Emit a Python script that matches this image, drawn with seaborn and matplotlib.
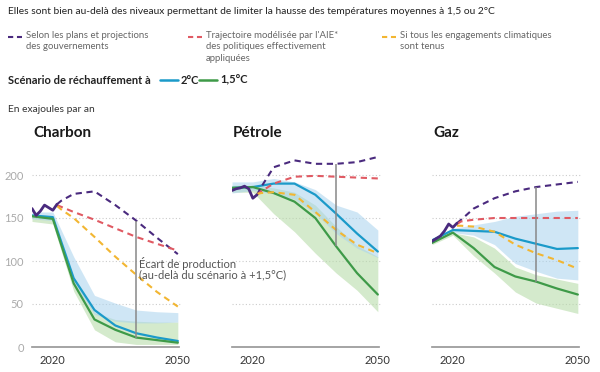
import numpy as np
import pandas as pd
import matplotlib.pyplot as plt
import seaborn as sns
from matplotlib.lines import Line2D

sns.set_theme(style="white")
plt.rcParams['font.family'] = ['Lato', 'DejaVu Sans']

# ---- data (EJ per year) ----
fuels = ['Charbon', 'Pétrole', 'Gaz']

years_hist = [2015, 2016, 2017, 2018, 2019, 2020, 2021]
coal_hist = [161, 153, 158, 165, 162, 159, 166]
oil_hist = [182, 184, 185, 187, 184, 173, 177]
gas_hist = [123, 126, 129, 135, 143, 139, 144]

years_proj = [2021, 2022, 2025, 2030, 2035, 2040, 2045, 2050]
coal_gov = [166, 170, 178, 181, 165, 147, 127, 108]
oil_gov = [177, 186, 209, 217, 213, 213, 215, 221]
gas_gov = [144, 148, 161, 173, 181, 186, 189, 192]

coal_iea = [165, 163, 157, 148, 138, 128, 120, 112]
oil_iea = [177, 181, 190, 198, 199, 198, 197, 196]
gas_iea = [143, 146, 148, 150, 150, 150, 150, 150]

coal_pledge = [164, 160, 150, 128, 105, 84, 64, 47]
oil_pledge = [178, 179, 180, 177, 157, 136, 119, 109]
gas_pledge = [141, 141, 140, 134, 119, 109, 101, 91]

years_scen = [2015, 2020, 2025, 2030, 2035, 2040, 2045, 2050]
coal_2c = [153, 151, 80, 43, 25, 16, 11, 7]
coal_2c_lo = [149, 147, 74, 38, 30, 28, 28, 29]
coal_2c_hi = [157, 157, 105, 60, 51, 43, 41, 40]
coal_15c = [152, 149, 74, 32, 20, 11, 8, 5]
coal_15c_lo = [146, 143, 65, 20, 6, 3, 3, 3]
coal_15c_hi = [153, 151, 80, 40, 32, 30, 29, 29]

oil_2c = [185, 186, 190, 190, 177, 155, 132, 111]
oil_2c_lo = [179, 182, 178, 172, 155, 132, 115, 104]
oil_2c_hi = [192, 192, 196, 192, 183, 165, 157, 136]
oil_15c = [185, 186, 179, 169, 150, 117, 86, 61]
oil_15c_lo = [180, 180, 155, 134, 109, 86, 66, 41]
oil_15c_hi = [188, 188, 185, 180, 165, 140, 118, 105]

gas_2c = [124, 136, 135, 134, 126, 120, 114, 115]
gas_2c_lo = [122, 133, 130, 119, 97, 88, 80, 78]
gas_2c_hi = [126, 138, 142, 146, 152, 155, 158, 159]
gas_15c = [121, 133, 115, 93, 82, 76, 68, 61]
gas_15c_lo = [119, 130, 106, 86, 64, 51, 45, 39]
gas_15c_hi = [122, 133, 128, 115, 93, 84, 79, 74]

yticks = [0, 50, 100, 150, 200]
xticks = [2020, 2030, 2040, 2050]
xticklabels = ['2020', '', '', '2050']

hist = [coal_hist, oil_hist, gas_hist]
gov = [coal_gov, oil_gov, gas_gov]
iea = [coal_iea, oil_iea, gas_iea]
pledge = [coal_pledge, oil_pledge, gas_pledge]
c2 = [coal_2c, oil_2c, gas_2c]
c2_lo = [coal_2c_lo, oil_2c_lo, gas_2c_lo]
c2_hi = [coal_2c_hi, oil_2c_hi, gas_2c_hi]
c15 = [coal_15c, oil_15c, gas_15c]
c15_lo = [coal_15c_lo, oil_15c_lo, gas_15c_lo]
c15_hi = [coal_15c_hi, oil_15c_hi, gas_15c_hi]

# colours
PURPLE = '#4a2a7e'
RED = '#e05a63'
YELLOW = '#f2b632'
BLUE = '#1b9ac9'
GREEN = '#3e9a48'
BLUE_BAND = '#a9d3ee'
GREEN_BAND = '#b8dcaa'
GREY_TXT = '#666666'

fig = plt.figure(figsize=(6, 3.72), dpi=100)

lefts = [32 / 600, 232 / 600, 432 / 600]
for i, fuel in enumerate(fuels):
    ax = fig.add_axes([lefts[i], 25 / 372, 150 / 600, 193.5 / 372])
    ax.set_facecolor('none')

    # uncertainty bands
    ax.fill_between(years_scen, c15_lo[i], c15_hi[i], color=GREEN_BAND, alpha=0.6, lw=0, zorder=1)
    ax.fill_between(years_scen, c2_lo[i], c2_hi[i], color=BLUE_BAND, alpha=0.55, lw=0, zorder=1)

    df_scen = pd.DataFrame({'year': years_scen * 2,
                            'value': c2[i] + c15[i],
                            'serie': ['2°C'] * len(years_scen) + ['1,5°C'] * len(years_scen)})
    sns.lineplot(data=df_scen, x='year', y='value', hue='serie',
                 palette={'2°C': BLUE, '1,5°C': GREEN}, lw=1.6,
                 legend=False, ax=ax, zorder=3)

    df_proj = pd.DataFrame({'year': years_proj * 3,
                            'value': gov[i] + iea[i] + pledge[i],
                            'serie': ['gov'] * len(years_proj) + ['iea'] * len(years_proj)
                            + ['pledge'] * len(years_proj)})
    sns.lineplot(data=df_proj, x='year', y='value', hue='serie', style='serie',
                 palette={'gov': PURPLE, 'iea': RED, 'pledge': YELLOW},
                 dashes={'gov': (3, 2.2), 'iea': (3, 2.2), 'pledge': (3, 2.2)},
                 lw=1.5, legend=False, ax=ax, zorder=4)

    sns.lineplot(x=years_hist, y=hist[i], color=PURPLE, lw=2, ax=ax, zorder=5)

    # production gap at 2040
    k = years_proj.index(2040)
    ks = years_scen.index(2040)
    ax.vlines(2040, c15[i][ks], gov[i][k], color='#888888', lw=1.1, zorder=6)

    ax.set_xlim(2015, 2051)
    ax.set_ylim(0, 225)
    ax.set_yticks(yticks)
    ax.set_xticks(xticks)
    ax.set_xticklabels(xticklabels)
    ax.set_xlabel('')
    ax.set_ylabel('')
    ax.yaxis.grid(True, linestyle=(0, (1, 2)), color='#cccccc', lw=0.8)
    ax.set_axisbelow(True)
    for s in ['top', 'right', 'left']:
        ax.spines[s].set_visible(False)
    ax.spines['bottom'].set_color('#999999')
    ax.spines['bottom'].set_bounds(2015, 2050.3)
    ax.tick_params(axis='x', direction='inout', length=6, width=0.8, color='#999999',
                   labelsize=8, labelcolor='#333333', pad=3)
    ax.tick_params(axis='y', length=0, labelsize=8, labelcolor='#aaaaaa', pad=6)
    if i > 0:
        ax.set_yticklabels([])

    fig.text(lefts[i] + 1 / 600, 1 - 133 / 372, fuel, fontsize=11, fontweight='bold',
             color='#1a1a1a', va='center', ha='left')

    if i == 0:
        ax.text(2040.6, 91, 'Écart de production\n(au-delà du scénario à +1,5°C)',
                fontsize=8, color='#555555', va='center', ha='left',
                linespacing=0.95, zorder=10)

# header
fig.text(8 / 600, 1 - 12 / 372,
         'Elles sont bien au-delà des niveaux permettant de limiter la hausse des températures moyennes à 1,5 ou 2°C',
         fontsize=7.4, color='#222222', va='center', ha='left')

legend_items = [
    (8, PURPLE, 'Selon les plans et projections\ndes gouvernements'),
    (188, RED, "Trajectoire modélisée par l'AIE*\ndes politiques effectivement\nappliquées"),
    (382, YELLOW, 'Si tous les engagements climatiques\nsont tenus'),
]
for x0, col, label in legend_items:
    fig.add_artist(Line2D([x0 / 600, (x0 + 14) / 600], [1 - 37 / 372] * 2,
                          transform=fig.transFigure, color=col, lw=1.5, dashes=(2.5, 1.8)))
    fig.text((x0 + 18) / 600, 1 - 31 / 372, label, fontsize=6.9, color=GREY_TXT,
             va='top', ha='left', linespacing=1.35)

fig.text(8 / 600, 1 - 80 / 372, 'Scénario de réchauffement à', fontsize=8,
         fontweight='bold', color='#222222', va='center', ha='left')
for x0, col, label in [(160, BLUE, '2°C'), (199, GREEN, '1,5°C')]:
    fig.add_artist(Line2D([x0 / 600, (x0 + 18) / 600], [1 - 80 / 372] * 2,
                          transform=fig.transFigure, color=col, lw=1.8))
    fig.text((x0 + 21) / 600, 1 - 80 / 372, label, fontsize=8, fontweight='bold',
             color='#222222', va='center', ha='left')

fig.text(8 / 600, 1 - 110 / 372, 'En exajoules par an', fontsize=7.4,
         color='#333333', va='center', ha='left')

fig.savefig('out.png', dpi=100)
